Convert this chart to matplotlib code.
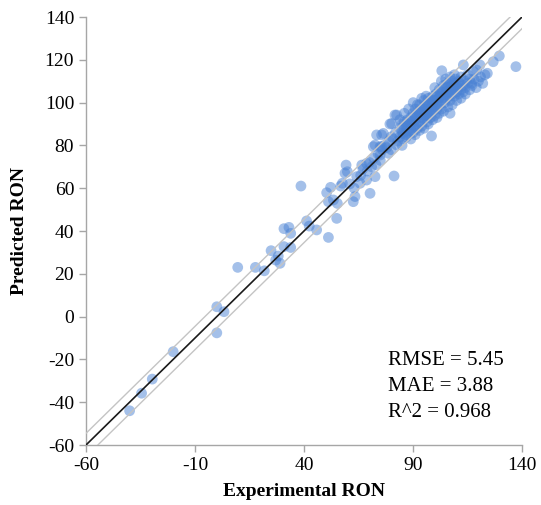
import matplotlib
matplotlib.use("Agg")
import matplotlib.pyplot as plt
import numpy as np

# Experimental vs predicted RON
experimental = [
    -40, -34.5, -29.6, -20, 0, 3.3, 0, 9.6, 17.7, 21.8, 24.9, 27, 28.2, 29, 30.8, 33.9,
    30.8, 33.1, 33.9, 38.6, 41.2, 42.4, 45.8, 51.2, 55, 50.4, 52.2, 51.2, 53.5, 55.3,
    56.8, 57.6, 59.3, 59.9, 58.8,
    62.6, 63.4, 64.2, 65.7, 66.5, 68.7, 68.7, 70.3, 71.8, 72.6, 72.6, 74.9, 74.9, 75.6,
    73.3, 75.6, 76.4, 78.7, 79.4, 80.2, 81.3, 81.7, 82.5, 82.5, 85.5,
    61, 63, 66, 67, 69, 70, 71, 72, 73, 74, 75, 76, 77, 78, 79, 80, 80, 81, 82, 83, 84,
    84, 85, 85,
    90.1, 98.5, 103.2, 107, 113.1, 116.9, 117.7, 119.2, 120.7, 124.1, 126.8, 129.6, 137.2,
    85, 85.5, 86, 86, 86.5, 87, 87, 87.5, 88, 88, 88.5, 89, 89, 89.5, 90, 90, 90.5, 91,
    91, 91.5, 92, 92, 92.5, 93, 93, 93.5, 94, 94, 94.5, 95, 95, 95.5, 96, 96, 96.5, 97,
    97, 97.5, 98, 98, 98.5, 99, 99, 99.5, 100, 100, 100.5, 101, 101, 101.5, 102, 102,
    102.5, 103, 103, 103.5, 104, 104, 104.5, 105, 105, 105.5, 106, 106, 106.5, 107, 107,
    107.5, 108, 108, 108.5, 109, 109, 109.5, 110, 110, 110.5, 111, 111, 111.5, 112, 112,
    113, 113, 114, 114, 115, 115, 116, 116, 117, 118, 119, 120, 121, 122, 123,
    84, 86, 88, 89, 91, 92, 93, 94, 95, 96, 97, 99, 100, 101, 102, 103, 104, 106, 108,
    110, 112, 114, 105, 107, 109, 100, 98, 96, 95, 94, 97, 99, 101, 103, 105, 107, 109,
    102, 104, 106, 108, 91, 90, 89, 87, 93, 95, 97, 99,
]
predicted = [
    -44, -35.8, -29.2, -16.4, 4.6, 2.3, -7.6, 23, 23, 21.4, 30.8, 26.4, 28.3, 24.9, 32.7, 32.3,
    41.1, 41.7, 38.9, 61, 44.7, 42.3, 40.5, 37, 45.9, 57.9, 60.4, 53.7, 54.5, 52.9,
    61, 62.3, 70.8, 67.7, 67,
    53.7, 56.1, 65.4, 62.3, 70.8, 71.6, 63.8, 57.6, 79.4, 65.4, 80.2, 75.5, 79.4, 79.4,
    84.9, 84.9, 85.6, 76.3, 90, 90.2, 65.7, 94.2, 80.2, 94.2, 85.6,
    62, 60, 66, 69, 68, 72, 70, 74, 71, 76, 73, 78, 80, 79, 82, 78, 84, 83, 86, 82, 84,
    88, 80, 90,
    100, 84.4, 114.9, 95, 117.6, 109, 114.5, 115.2, 117.6, 113.7, 119.1, 121.8, 116.8,
    86, 83, 88, 91, 85, 89, 84, 92, 87, 90, 86, 93, 88, 91, 86, 95, 89, 92,
    97, 90, 94, 88, 96, 91, 99, 93, 95, 89, 98, 92, 101, 96, 94, 99, 91, 97,
    102, 95, 100, 93, 98, 96, 103, 101, 98, 94, 104, 100, 97, 102, 99, 106,
    103, 101, 97, 105, 102, 108, 100, 104, 107, 102, 105, 109, 103, 106, 101,
    108, 104, 110, 106, 103, 108, 111, 105, 108, 107, 110, 104, 109, 106, 112,
    108, 105, 110, 107, 109, 113, 106, 111, 108, 111, 107, 110, 112, 109, 113,
    92, 95, 97, 83, 85, 99, 87, 102, 88, 103, 90, 92, 107, 93, 95, 110, 96, 98, 99,
    101, 102, 104, 111, 112, 113, 101, 97, 96, 97, 93, 99, 99, 103, 104, 105, 107, 109,
    102, 105, 107, 108, 94, 91, 90, 87, 95, 94, 94, 100,
]

rmse, mae, r2 = 5.45, 3.88, 0.968
x_ticks = [-60, -10, 40, 90, 140]
y_ticks = [-60, -40, -20, 0, 20, 40, 60, 80, 100, 120, 140]
lims = (-60, 140)

plt.rcParams['font.family'] = ['Liberation Serif', 'DejaVu Serif']
plt.rcParams['axes.unicode_minus'] = False

fig = plt.figure(figsize=(5.41, 5.05), dpi=100)
ax = fig.add_axes([86 / 541, 60 / 505, 436 / 541, 428 / 505])

ax.scatter(experimental, predicted, s=60, color='#4A82D4', alpha=0.5,
           edgecolors='none', zorder=2)

line = np.array(lims)
ax.plot(line, line, color='#1a1a1a', lw=1.2, zorder=3)
ax.plot(line, line + rmse, color='#C4C4C4', lw=1.0, zorder=3)
ax.plot(line, line - rmse, color='#C4C4C4', lw=1.0, zorder=3)

ax.set_xlim(lims)
ax.set_ylim(lims)
ax.set_xticks(x_ticks)
ax.set_yticks(y_ticks)
ax.tick_params(axis='both', labelsize=14, color='#A6A6A6', length=5, width=1)
ax.tick_params(axis='x', pad=4)
for side in ('top', 'right'):
    ax.spines[side].set_visible(False)
for side in ('left', 'bottom'):
    ax.spines[side].set_color('#A6A6A6')
    ax.spines[side].set_linewidth(1)

ax.set_xlabel('Experimental RON', fontsize=14, fontweight='bold', labelpad=6)
ax.set_ylabel('Predicted RON', fontsize=14, fontweight='bold', labelpad=12)

stats = [f'RMSE = {rmse}', f'MAE = {mae}', f'R^2 = {r2}']
for i, s in enumerate(stats):
    fig.text(388 / 541, 1 - (365 + 26 * i) / 505, s, fontsize=15, va='baseline', ha='left')

fig.savefig('out.png', dpi=100)
